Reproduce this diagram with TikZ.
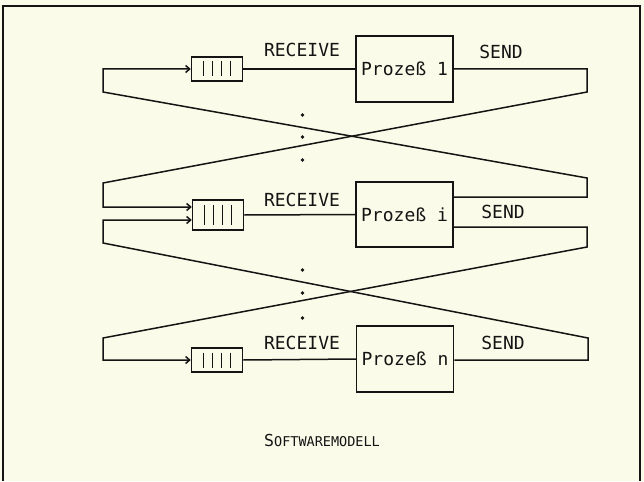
\documentclass[tikz,border=0pt]{standalone}
\usepackage{fontspec}
\setmonofont{DejaVu Sans Mono}
\usetikzlibrary{arrows.meta,calc}
\tikzset{every node/.append style={align=center}}
\definecolor{paperbg}{RGB}{251,251,234}
\definecolor{plotink}{RGB}{20,20,20}
\tikzset{
  lbl/.style={font=\ttfamily\fontsize{18}{18}\selectfont, text=plotink, inner sep=0pt},
  queuebox/.style={draw=plotink, line width=1.5pt, minimum width=51pt, inner sep=0pt},
  procbox/.style={lbl, draw=plotink, line width=1.5pt, minimum width=97pt, minimum height=66pt},
  wire/.style={draw=plotink, line width=1.5pt},
  feed/.style={wire, -{Straight Barb[length=4pt,width=7pt]}},
}

\begin{document}
\begin{tikzpicture}[x=1pt, y=-1pt]
    % Paper and frame
    \fill[paperbg] (0,0) rectangle (644,481);
    \useasboundingbox (0,0) rectangle (644,481);
    \draw[wire] (3,481) -- (3,6) -- (640,6) -- (640,481);

    % Process 1
    \node[queuebox, minimum height=24pt] (q1) at (217,69) {};
    \node[procbox] (p1) at (404.5,69) {Prozeß 1};
    \node[lbl] (recv1) at (302,50) {RECEIVE};
    \node[lbl] (send1) at (501,52) {SEND};

    % Process i
    \node[queuebox, minimum height=30pt] (qi) at (218,215) {};
    \node[procbox, minimum height=65pt] (pi) at (404.5,214.5) {Prozeß i};
    \node[lbl] (recvi) at (302,200) {RECEIVE};
    \node[lbl] (sendi) at (503,212) {SEND};

    % Process n
    \node[queuebox, minimum height=24pt] (qn) at (217,360) {};
    \node[procbox] (pn) at (405,359) {Prozeß n};
    \node[lbl] (recvn) at (302,343) {RECEIVE};
    \node[lbl] (sendn) at (503,343) {SEND};

    % Queue slots
    \foreach \q/\h in {q1/15, qi/20, qn/15}
      \foreach \dx in {-13.5,-4.5,4.5,13.5}
        \draw[wire] ($(\q)+(\dx,-\h/2)$) -- ++(0,\h);

    % Bend points
    \coordinate (l1) at (103,92);
    \coordinate (r1) at (587,92);
    \coordinate (liu) at (103,183);
    \coordinate (riu) at (587,178);
    \coordinate (lil) at (103,243);
    \coordinate (ril) at (587,247);
    \coordinate (ln) at (103,338);
    \coordinate (rn) at (588,338);

    % RECEIVE lines
    \draw[wire] (q1.east) -- (p1.west);
    \draw[wire] (qi.east) -- (pi.west);
    \draw[wire] (qn.east) -- (pn.west);

    % SEND lines
    \draw[feed] (p1.east) -| (r1) -- (liu) |- ([yshift=8pt]qi.west);
    \draw[feed] ([yshift=17.5pt]pi.east) -| (riu) -- (l1) |- (q1.west);
    \draw[feed] ([yshift=-12.5pt]pi.east) -| (ril) -- (ln) |- (qn.west);
    \draw[feed] ([yshift=-1pt]pn.east) -| (rn) -- (lil) |- ([yshift=-5pt]qi.west);

    % Dots
    \foreach \y in {115,137,160,270,293,318}
      \fill[plotink] (302.5,\y) circle (1.8);

    % Caption
    \node[lbl, font=\ttfamily\fontsize{13.5}{13.5}\selectfont] (caption) at (322,440)
      {{\fontsize{16.5}{16.5}\selectfont S}OFTWAREMODELL};
\end{tikzpicture}
\end{document}
